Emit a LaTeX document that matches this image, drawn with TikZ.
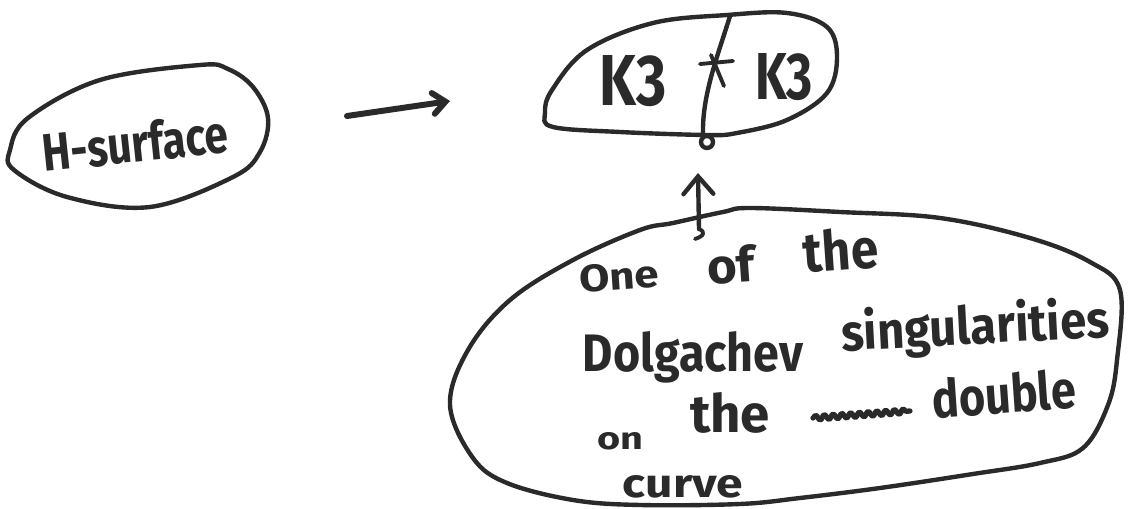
\documentclass[tikz,border=0pt]{standalone}
\usepackage{graphicx}
\usepackage{fontspec}
\setmainfont{Fira Sans}
\usetikzlibrary{arrows.meta,decorations.pathmorphing}
\newlength\pxu
\setlength\pxu{0.02cm}
% a word scaled to a given width and height (in drawing units)
\newcommand\inkword[3]{\resizebox{#1\pxu}{#2\pxu}{\bfseries #3}}
\definecolor{inkc}{HTML}{2A2A2A}
\begin{document}
\begin{tikzpicture}[x=0.02cm,y=-0.02cm,
  ink/.style={line width=2.5pt, line cap=round, line join=round, draw=inkc},
  word/.style={inner sep=0pt, text=inkc, anchor=base},
  barb/.style={-{Straight Barb[length=#1, width=1.7*#1, line cap=round]}},
]
\useasboundingbox[fill=white] (0,0) rectangle (1142,509);

% left blob
\draw[ink] plot[smooth cycle, tension=0.6] coordinates {
  (10,150) (28,118) (100,80) (200,65) (228,69) (253,87) (268,118)
  (260,152) (233,177) (150,207) (67,197) (14,170)};
\node[word, rotate=6] (hs) at (137,162) {\inkword{187}{40}{H-surface}};

% upper blob split in two
\draw[ink] plot[smooth cycle, tension=0.6] coordinates {
  (545,113) (552,90) (587,50) (653,23) (727,15) (787,13) (827,27)
  (837,57) (827,93) (787,120) (737,133) (707,135) (620,132) (553,127)};
\draw[ink] (730,16) .. controls (718,55) and (702,95) .. (703,134);
\draw[ink] (707,142) circle[radius=6];
\draw[ink, line width=2.2pt] (700,64) -- (733,61) (711,55) -- (724,86);
\node[word] (kl) at (633,106) {\inkword{67}{50}{K3}};
\node[word] (kr) at (784,100) {\inkword{58}{46}{K3}};

% lower blob
\draw[ink] plot[smooth cycle, tension=0.6] coordinates {
  (450,405) (468,350) (510,300) (573,260) (640,230) (673,223) (723,212)
  (750,208) (840,212) (940,218) (1030,238) (1090,262) (1120,290)
  (1117,360) (1108,405) (1083,448) (1040,463) (973,474) (880,488)
  (800,498) (740,504) (640,505) (573,500) (507,483) (473,458)};

\node[word, rotate=4] (w1) at (620,290) {\inkword{80}{27}{One}};
\node[word, rotate=4] (w2) at (732,283) {\inkword{48}{37}{of}};
\node[word, rotate=4] (w3) at (842,270) {\inkword{75}{42}{the}};
\node[word] (w4) at (693,372) {\inkword{220}{40}{Dolgachev}};
\node[word, rotate=3] (w5) at (976,344) {\inkword{268}{42}{singularities}};
\node[word] (w6) at (620,450) {\inkword{46}{17}{on}};
\node[word] (w7) at (730,433) {\inkword{80}{40}{the}};
\node[word, rotate=4] (w8) at (1005,413) {\inkword{144}{40}{double}};
\node[word] (w9) at (683,497) {\inkword{120}{22}{curve}};
% struck-out word
\draw[ink, line width=3pt, decorate,
  decoration={snake, amplitude=1.4pt, segment length=5pt}]
  (813,418) -- (910,411);

% connectors
\coordinate (ra) at (347,116);
\coordinate (rb) at (450,101);
\draw[ink, line width=3.4pt, barb=7pt] (ra) -- (rb);
\coordinate (ua) at (699,229);
\coordinate (ub) at (698,173);
\draw[ink, barb=10pt] (ua) -- (ub);
\draw[ink, line width=2.2pt] (ua) .. controls (706,232) and (704,236) .. (695,239);
\end{tikzpicture}
\end{document}
